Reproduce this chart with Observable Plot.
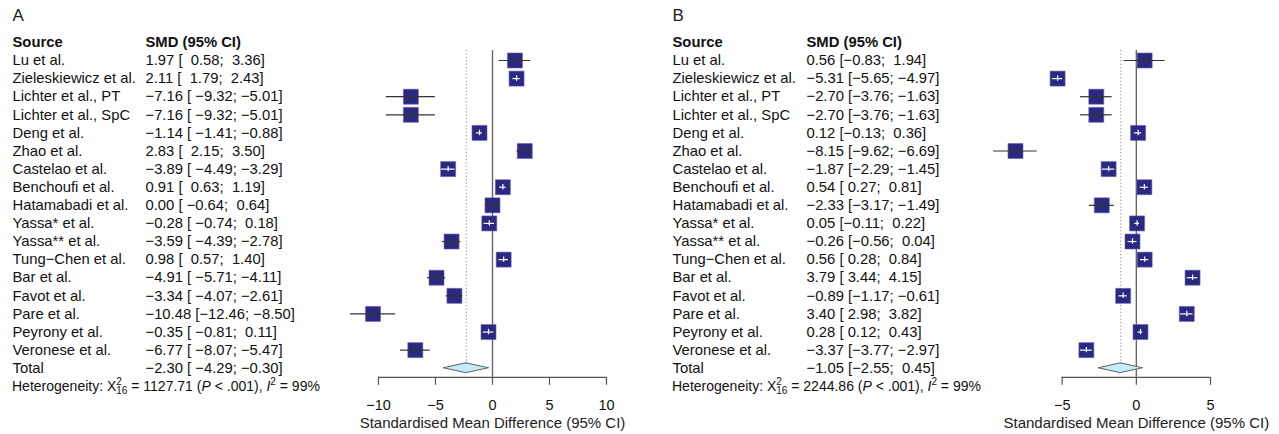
<!DOCTYPE html>
<html><head><meta charset="utf-8">
<script src="https://cdn.jsdelivr.net/npm/d3@7"></script>
<script src="https://cdn.jsdelivr.net/npm/@observablehq/plot@0.6"></script>
<style>
body{margin:0;background:#fff;}
#wrap{display:flex;width:1279px;height:434px;overflow:hidden;}
svg text{font-family:"Liberation Sans",Arial,Helvetica,sans-serif;}
</style></head><body><div id="wrap"></div>
<script>
const sources = ["Lu et al.", "Zieleskiewicz et al.", "Lichter et al., PT", "Lichter et al., SpC", "Deng et al.", "Zhao et al.", "Castelao et al.", "Benchoufi et al.", "Hatamabadi et al.", "Yassa* et al.", "Yassa** et al.", "Tung\u2212Chen et al.", "Bar et al.", "Favot et al.", "Pare et al.", "Peyrony et al.", "Veronese et al."];

const estA = [1.97, 2.11, -7.16, -7.16, -1.14, 2.83, -3.89, 0.91, 0.00, -0.28, -3.59, 0.98, -4.91, -3.34, -10.48, -0.35, -6.77];
const loA  = [0.58, 1.79, -9.32, -9.32, -1.41, 2.15, -4.49, 0.63, -0.64, -0.74, -4.39, 0.57, -5.71, -4.07, -12.46, -0.81, -8.07];
const hiA  = [3.36, 2.43, -5.01, -5.01, -0.88, 3.50, -3.29, 1.19, 0.64, 0.18, -2.78, 1.40, -4.11, -2.61, -8.50, 0.11, -5.47];
const totalA = [-2.30, -4.29, -0.30];
const hetA = {q: 1127.71, df: 16, i2: 99};

const estB = [0.56, -5.31, -2.70, -2.70, 0.12, -8.15, -1.87, 0.54, -2.33, 0.05, -0.26, 0.56, 3.79, -0.89, 3.40, 0.28, -3.37];
const loB  = [-0.83, -5.65, -3.76, -3.76, -0.13, -9.62, -2.29, 0.27, -3.17, -0.11, -0.56, 0.28, 3.44, -1.17, 2.98, 0.12, -3.77];
const hiB  = [1.94, -4.97, -1.63, -1.63, 0.36, -6.69, -1.45, 0.81, -1.49, 0.22, 0.04, 0.84, 4.15, -0.61, 3.82, 0.43, -2.97];
const totalB = [-1.05, -2.55, 0.45];
const hetB = {q: 2244.86, df: 16, i2: 99};

const ticksA = [-10, -5, 0, 5, 10];
const ticksB = [-5, 0, 5];
const axisTitle = "Standardised Mean Difference (95% CI)";

const FONT = "'Liberation Sans', Arial, Helvetica, sans-serif";
function fmt(v){ return (v < 0 ? "\u2212" : "") + Math.abs(v).toFixed(2); }
function pad(s, n){ return "\u00a0".repeat(Math.max(0, n - s.length)) + s; }
function ciLabels(est, lo, hi, tot){
  const L = lo.concat([tot[1]]).map(fmt), H = hi.concat([tot[2]]).map(fmt);
  const nl = d3.max(L, s => s.length), nh = d3.max(H, s => s.length);
  return est.concat([tot[0]]).map((e, i) => fmt(e) + " [" + pad(L[i], nl) + "; " + pad(H[i], nh) + "]");
}

function panel({letter, est, lo, hi, total, het, ticks, xRange, colSource, colSmd, width}){
  const n = sources.length;
  const xDomain = [d3.min(ticks), d3.max(ticks)];
  const ppu = (xRange[1] - xRange[0]) / (xDomain[1] - xDomain[0]);
  const side = 15;
  const rows = sources.map((s, i) => ({i, source: s, est: est[i], lo: lo[i], hi: hi[i], inside: (hi[i] - lo[i]) * ppu < side - 0.6}));
  const labels = ciLabels(est, lo, hi, total);
  const textRows = rows.map(r => ({i: r.i, source: r.source, label: labels[r.i]}))
    .concat([{i: n, source: "Total", label: labels[n]}]);
  const dh = 0.27;
  const diamond = [
    {y: n - dh, x1: total[0], x2: total[0]},
    {y: n, x1: total[1], x2: total[2]},
    {y: n + dh, x1: total[0], x2: total[0]}
  ];
  const axisRow = n + 0.5;
  const hetMark = (index, scales) => {
    const yy = scales && scales.y ? scales.y(n + 1) : 385.8;
    const t = d3.create("svg:text")
      .attr("x", colSource).attr("y", yy).attr("dy", "0.35em")
      .attr("text-anchor", "start")
      .attr("font-size", 14).attr("fill", "#111").attr("font-family", FONT);
    t.append("tspan").text("Heterogeneity: X");
    t.append("tspan").attr("font-size", 10).attr("dy", -5.5).text("2");
    t.append("tspan").attr("font-size", 10).attr("dx", -5.6).attr("dy", 9).text(String(het.df));
    t.append("tspan").attr("dy", -3.5).text("\u00a0= " + het.q.toFixed(2) + " (");
    t.append("tspan").attr("font-style", "italic").text("P");
    t.append("tspan").text("\u00a0< .001),\u00a0");
    t.append("tspan").attr("font-style", "italic").text("I");
    t.append("tspan").attr("font-size", 10).attr("dy", -5.5).text("2");
    t.append("tspan").attr("dy", 5.5).text("\u00a0= " + het.i2 + "%");
    return t.node();
  };
  return Plot.plot({
    width, height: 434,
    marginLeft: 0, marginRight: 0, marginTop: 0, marginBottom: 57.2,
    x: {domain: xDomain, range: xRange, axis: null},
    y: {domain: [-1, axisRow], range: [41.9, 376.8], axis: null},
    style: {fontFamily: FONT, fontSize: "14.8px", color: "#111", background: "white", overflow: "visible"},
    marks: [
      Plot.text([letter], {frameAnchor: "top-left", dx: colSource, dy: 15, fontSize: 17, textAnchor: "start", lineAnchor: "middle", fill: "#222"}),
      Plot.text(["Source"], {y: -1, frameAnchor: "left", dx: colSource, textAnchor: "start", lineAnchor: "middle", fontWeight: "bold", fill: "#111"}),
      Plot.text(["SMD (95% CI)"], {y: -1, frameAnchor: "left", dx: colSmd, textAnchor: "start", lineAnchor: "middle", fontWeight: "bold", fill: "#111"}),
      Plot.text(textRows, {y: "i", text: "source", frameAnchor: "left", dx: colSource, textAnchor: "start", lineAnchor: "middle", fill: "#111"}),
      Plot.text(textRows, {y: "i", text: "label", frameAnchor: "left", dx: colSmd, textAnchor: "start", lineAnchor: "middle", fill: "#111"}),
      hetMark,
      Plot.ruleX([total[0]], {y1: -0.55, y2: n, stroke: "#8a8a8a", strokeWidth: 1, strokeDasharray: "1.2,2.2"}),
      Plot.ruleX([0], {y1: -0.55, y2: axisRow, stroke: "#666", strokeWidth: 1.4}),
      Plot.ruleY([axisRow], {x1: xDomain[0], x2: xDomain[1], stroke: "#555", strokeWidth: 1.2}),
      Plot.axisX({anchor: "bottom", ticks, tickSize: 8, tickPadding: 14, fontSize: 14.5, stroke: "#555", strokeWidth: 1.2, label: null,
        tickFormat: d => (d < 0 ? "\u2212" : "") + Math.abs(d)}),
      Plot.text([axisTitle], {x: 0, frameAnchor: "bottom", dy: 46, fontSize: 15, lineAnchor: "middle", fill: "#222"}),
      Plot.dot(rows, {x: "est", y: "i", symbol: "square", r: side / Math.sqrt(Math.PI), fill: "#2b2882", stroke: "#6563b0", strokeWidth: 0.6}),
      Plot.ruleY(rows.filter(r => !r.inside), {y: "i", x1: "lo", x2: "hi", stroke: "#333", strokeWidth: 1.2}),
      Plot.ruleY(rows.filter(r => r.inside), {y: "i", x1: "lo", x2: "hi", stroke: "white", strokeWidth: 1.2}),
      Plot.ruleX(rows.filter(r => !r.inside), {x: "est", y1: d => d.i - 0.15, y2: d => d.i + 0.15, stroke: "#333", strokeWidth: 1.2}),
      Plot.ruleX(rows.filter(r => r.inside), {x: "est", y1: d => d.i - 0.15, y2: d => d.i + 0.15, stroke: "white", strokeWidth: 1.2}),
      Plot.areaX(diamond, {y: "y", x1: "x1", x2: "x2", fill: "#c9ebf7", stroke: "#56646e", strokeWidth: 1})
    ]
  });
}

const wrap = document.getElementById("wrap");
wrap.append(panel({letter: "A", est: estA, lo: loA, hi: hiA, total: totalA, het: hetA, ticks: ticksA,
  xRange: [378, 606], colSource: 12, colSmd: 145, width: 640}));
wrap.append(panel({letter: "B", est: estB, lo: loB, hi: hiB, total: totalB, het: hetB, ticks: ticksB,
  xRange: [421.7, 570], colSource: 32, colSmd: 166, width: 639}));
</script></body></html>
